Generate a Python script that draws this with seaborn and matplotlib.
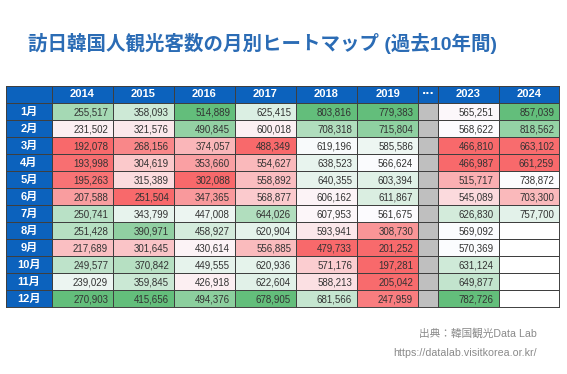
import matplotlib

matplotlib.use("Agg")
import matplotlib.pyplot as plt
import numpy as np
import pandas as pd
import seaborn as sns
from matplotlib.colors import LinearSegmentedColormap, ListedColormap

sns.set_theme(style="white")
CJK = ["Liberation Sans", "Noto Sans CJK JP", "DejaVu Sans"]
NUM_FONT = ["Liberation Sans", "DejaVu Sans"]

months = [f"{m}月" for m in range(1, 13)]
years_left = ["2014", "2015", "2016", "2017", "2018", "2019"]
years_right = ["2023", "2024"]

visitors_2014 = [255517, 231502, 192078, 193998, 195263, 207588, 250741, 251428, 217689, 249577, 239029, 270903]
visitors_2015 = [358093, 321576, 268156, 304619, 315389, 251504, 343799, 390971, 301645, 370842, 359845, 415656]
visitors_2016 = [514889, 490845, 374057, 353660, 302088, 347365, 447008, 458927, 430614, 449555, 426918, 494376]
visitors_2017 = [625415, 600018, 488349, 554627, 558892, 568877, 644026, 620904, 556885, 620936, 622604, 678905]
visitors_2018 = [803816, 708318, 619196, 638523, 640355, 606162, 607953, 593941, 479733, 571176, 588213, 681566]
visitors_2019 = [779383, 715804, 585586, 566624, 603394, 611867, 561675, 308730, 201252, 197281, 205042, 247959]
visitors_2023 = [565251, 568622, 466810, 466987, 515717, 545089, 626830, 569092, 570369, 631124, 649877, 782726]
visitors_2024 = [857039, 818562, 663102, 661259, 738872, 703300, 757700] + [np.nan] * 5

df = pd.DataFrame(
    {
        "2014": visitors_2014, "2015": visitors_2015, "2016": visitors_2016,
        "2017": visitors_2017, "2018": visitors_2018, "2019": visitors_2019,
        "2023": visitors_2023, "2024": visitors_2024,
    },
    index=months,
)

HEADER_BLUE = "#0c62bd"
GAP_GRAY = "#bfbfbf"
LINE = "#3f3f3f"
scale_cmap = LinearSegmentedColormap.from_list("excel3", ["#F8696B", "#FCFCFF", "#63BE7B"])


def excel_scale(col: pd.Series) -> pd.Series:
    # 3-colour scale per year: min -> red, median -> white, max -> green
    lo, mid, hi = col.min(), col.median(), col.max()
    below = -(mid - col) / (mid - lo)
    above = (col - mid) / (hi - mid)
    return below.where(col <= mid, above)


norm = df.apply(excel_scale)

fig = plt.figure(figsize=(5.67, 3.74), dpi=100)
W, H = 567, 374
top_px, bottom_px = 86, 307


def add_block(x0, x1):
    return fig.add_axes([x0 / W, 1 - bottom_px / H, (x1 - x0) / W, (bottom_px - top_px) / H])


def grid_with_header(frame):
    header = pd.DataFrame([[np.nan] * frame.shape[1]], columns=frame.columns, index=["hdr"])
    return pd.concat([header, frame])


def solid_layer(ax, shape_df, keep, color):
    sns.heatmap(
        pd.DataFrame(np.zeros(shape_df.shape), index=shape_df.index, columns=shape_df.columns),
        mask=~keep, cmap=ListedColormap([color]), cbar=False, ax=ax,
        linewidths=0.7, linecolor=LINE, xticklabels=False, yticklabels=False,
    )


def draw_years(ax, cols):
    values = grid_with_header(norm[cols])
    raw = grid_with_header(df[cols])
    sns.heatmap(
        values, cmap=scale_cmap, vmin=-1, vmax=1, cbar=False, ax=ax,
        linewidths=0.7, linecolor=LINE, xticklabels=False, yticklabels=False,
    )
    is_header = np.zeros(values.shape, dtype=bool)
    is_header[0, :] = True
    blank = values.isna().to_numpy() & ~is_header
    solid_layer(ax, values, is_header, HEADER_BLUE)
    if blank.any():
        solid_layer(ax, values, blank, "white")
    for j, year in enumerate(cols):
        ax.text(j + 0.5, 0.5, year, ha="center", va="center", color="white",
                fontsize=8, fontweight="bold", family=NUM_FONT)
        for i, v in enumerate(raw[year].iloc[1:]):
            if not np.isnan(v):
                ax.text(j + 0.92, i + 1.55, f"{int(v):,}", ha="right", va="center",
                        color="#333333", fontsize=7, family=NUM_FONT)


# month label column
ax_lab = add_block(6, 52)
lab = pd.DataFrame(np.zeros((13, 1)), index=["hdr"] + months, columns=["m"])
solid_layer(ax_lab, lab, np.ones((13, 1), dtype=bool), HEADER_BLUE)
for i, m in enumerate(months):
    ax_lab.text(0.5, i + 1.5, m, ha="center", va="center", color="white",
                fontsize=8, fontweight="bold", family=CJK)

ax_left = add_block(52, 418)
draw_years(ax_left, years_left)

# gap column between 2019 and 2023
ax_gap = add_block(418, 438)
gap = pd.DataFrame(np.zeros((13, 1)), index=["hdr"] + months, columns=["gap"])
hdr_mask = np.zeros((13, 1), dtype=bool)
hdr_mask[0, 0] = True
solid_layer(ax_gap, gap, ~hdr_mask, GAP_GRAY)
solid_layer(ax_gap, gap, hdr_mask, HEADER_BLUE)
ax_gap.text(0.5, 0.5, "···", ha="center", va="center", color="white",
            fontsize=8, fontweight="bold", family="DejaVu Sans")

ax_right = add_block(438, 559)
draw_years(ax_right, years_right)

for ax in (ax_lab, ax_left, ax_gap, ax_right):
    for side in ax.spines.values():
        side.set_visible(True)
        side.set_color(LINE)
        side.set_linewidth(0.7)

fig.text(262 / W, 1 - 43 / H, "訪日韓国人観光客数の月別ヒートマップ (過去10年間)",
         ha="center", va="center", color="#2b6cb5", fontsize=14, fontweight="bold", family=CJK)
fig.text(537 / W, 1 - 333 / H, "出典：韓国観光Data Lab", ha="right", va="center",
         color="#8a8a8a", fontsize=7.7, family=CJK)
fig.text(537 / W, 1 - 353 / H, "https://datalab.visitkorea.or.kr/", ha="right", va="center",
         color="#8a8a8a", fontsize=7.7, family=NUM_FONT)

fig.savefig("out.png", dpi=100)
